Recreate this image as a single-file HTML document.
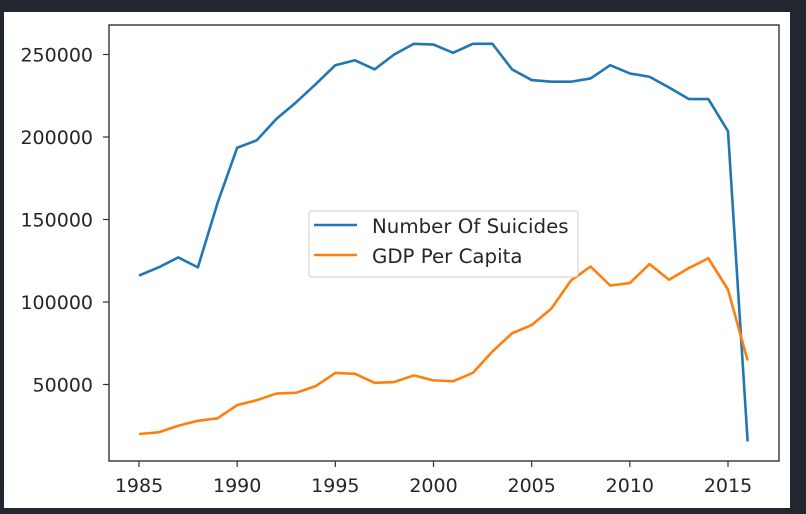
<!DOCTYPE html>
<html><head><meta charset="utf-8"><style>
html,body{margin:0;padding:0;background:#22262e;width:806px;height:514px;overflow:hidden}
svg{display:block;font-family:"DejaVu Sans","Liberation Sans",sans-serif}
</style></head><body>
<svg id="chart" width="806" height="514" xmlns="http://www.w3.org/2000/svg">
<rect x="4" y="12" width="786" height="496" fill="#ffffff"/>
<g id="plot"></g>
</svg>
<script>
const years=[1985,1986,1987,1988,1989,1990,1991,1992,1993,1994,1995,1996,1997,1998,1999,2000,2001,2002,2003,2004,2005,2006,2007,2008,2009,2010,2011,2012,2013,2014,2015,2016];
const suicides=[116000,121000,127000,121000,160000,193500,198000,211000,221000,232000,243500,246500,241000,250000,256500,256000,251000,256500,256500,241000,234500,233500,233500,235500,243500,238500,236500,230000,223000,223000,203500,15500];
const gdp=[20000,21000,25000,28000,29500,37500,40500,44500,45000,49000,57000,56500,51000,51500,55500,52500,52000,57000,70000,81000,86000,96000,113000,121500,110000,111500,123000,113500,120500,126500,107500,64500];
const xTicks=[1985,1990,1995,2000,2005,2010,2015];
const yTicks=[50000,100000,150000,200000,250000];
const NS="http://www.w3.org/2000/svg";
const L=109,R=779,T=25,B=461;
function xs(v){return 139+(v-1985)*(728-139)/30;}
function ys(v){return 467-v*82.5/50000;}
const g=document.getElementById('plot');
function mk(t,a){const e=document.createElementNS(NS,t);for(const k in a)e.setAttribute(k,a[k]);g.appendChild(e);return e;}
function series(vals,color,name){
  const p=mk('polyline',{points:vals.map((v,i)=>xs(years[i])+','+ys(v)).join(' '),fill:'none',stroke:color,'stroke-width':2.6,'stroke-linejoin':'round'});
  
  
}
series(suicides,'#1f77b4','suicides-line');
series(gdp,'#ff7f0e','gdp-line');
const fr=mk('rect',{x:L,y:T,width:R-L,height:B-T,fill:'none',stroke:'#333','stroke-width':1.4});


xTicks.forEach(t=>{
  const x=xs(t);
  const l=mk('line',{x1:x,x2:x,y1:B,y2:B+6,stroke:'#333','stroke-width':1.2});
  
  
  const tx=mk('text',{x:x,y:B+31,'text-anchor':'middle','font-size':19,fill:'#262626'});
  tx.textContent=t;
  
  
});
yTicks.forEach(t=>{
  const y=ys(t);
  const l=mk('line',{x1:L-6,x2:L,y1:y,y2:y,stroke:'#333','stroke-width':1.2});
  
  
  const tx=mk('text',{x:L-16,y:y+7,'text-anchor':'end','font-size':19,fill:'#262626'});
  tx.textContent=t;
  
  
});
const lg=mk('rect',{x:309,y:211,width:269,height:66,rx:3,fill:'#fff',stroke:'#ccc','stroke-width':1});


[['Number Of Suicides','#1f77b4',225],['GDP Per Capita','#ff7f0e',255]].forEach(([n,c,y])=>{
  const l=mk('line',{x1:314,x2:357,y1:y,y2:y,stroke:c,'stroke-width':2.6});
  
  
  const tx=mk('text',{x:372,y:y+8,'font-size':19.8,fill:'#262626'});
  tx.textContent=n;
  
  
});
</script>
</body></html>
